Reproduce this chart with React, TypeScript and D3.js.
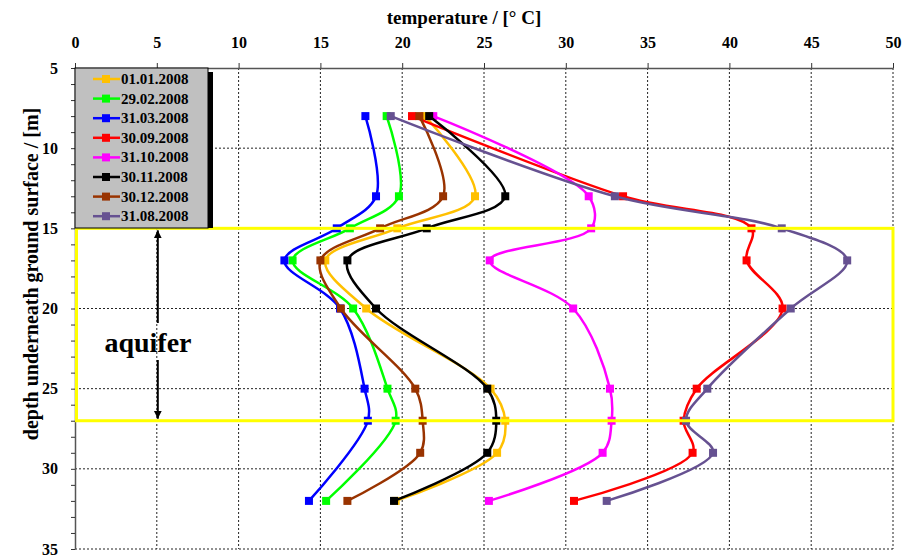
import React, { useEffect, useRef } from 'react';
import * as d3 from 'd3';

// depths of the measuring points (m below ground)
const depths = [8, 13, 15, 17, 20, 25, 27, 29, 32];
const depthsNo29 = [8, 13, 15, 17, 20, 25, 27, 32];

const seriesNames = [
    '01.01.2008', '29.02.2008', '31.03.2008', '30.09.2008',
    '31.10.2008', '30.11.2008', '30.12.2008', '31.08.2008',
];
const seriesColors = [
    '#ffc000', '#00ff00', '#0000ff', '#ff0000',
    '#ff00ff', '#000000', '#993300', '#665191',
];

// temperatures per series (°C)
const t0101 = [21.4, 24.45, 19.7, 15.3, 17.8, 25.4, 26.3, 25.8, 19.6];
const t2902 = [19.05, 19.8, 16.8, 13.3, 17.0, 19.1, 19.6, 15.35];
const t3103 = [17.75, 18.4, 16.0, 12.8, 16.2, 17.7, 17.9, 14.3];
const t3009 = [20.6, 33.5, 41.35, 41.05, 43.25, 38.0, 37.2, 37.75, 30.5];
const t3110 = [21.9, 31.4, 31.55, 25.35, 30.45, 32.7, 32.8, 32.25, 25.3];
const t3011 = [21.65, 26.3, 21.5, 16.65, 18.4, 25.2, 25.75, 25.2, 19.5];
const t3012 = [21.05, 22.5, 18.65, 15.0, 16.25, 20.8, 21.25, 21.1, 16.65];
const t3108 = [19.3, 33.0, 43.2, 47.2, 43.75, 38.65, 37.35, 39.0, 32.5];

const seriesValues = [t0101, t2902, t3103, t3009, t3110, t3011, t3012, t3108];
const seriesDepths = [depths, depthsNo29, depthsNo29, depths, depths, depths, depths, depths];

const xTicks = d3.range(0, 51, 5);
const yMajor = d3.range(5, 36, 5);
const aquiferTop = 15;
const aquiferBottom = 27;

const W = 908;
const H = 559;

const App = () => {
    const svgRef = useRef(null);

    useEffect(() => {
        const svg = d3.select(svgRef.current);
        svg.selectAll('*').remove();

        const x = d3.scaleLinear().domain([0, 50]).range([75, 893]);
        const y = d3.scaleLinear().domain([5, 35]).range([68, 549]);
        const font = '"Liberation Serif", "Times New Roman", serif';

        // grid
        const grid = svg.append('g');
        grid.selectAll('.vg').data(xTicks.slice(1)).enter().append('line')
            .attr('x1', d => x(d)).attr('x2', d => x(d))
            .attr('y1', y(5)).attr('y2', y(35))
            .attr('stroke', '#222').attr('stroke-width', 1).attr('stroke-dasharray', '2,2');
        grid.selectAll('.hg').data(yMajor.slice(1)).enter().append('line')
            .attr('x1', x(0)).attr('x2', x(50))
            .attr('y1', d => y(d)).attr('y2', d => y(d))
            .attr('stroke', '#222').attr('stroke-width', 1).attr('stroke-dasharray', '2,2');

        // axes
        const xAxis = svg.append('g')
            .attr('transform', `translate(0,${y(5)})`)
            .call(d3.axisTop(x).tickValues(xTicks).tickSize(5).tickPadding(15).tickSizeOuter(0));
        xAxis.select('.domain').attr('stroke', '#555').attr('stroke-width', 1.5);
        xAxis.selectAll('line').attr('stroke', '#333');
        xAxis.selectAll('text')
            .style('font-family', font).style('font-size', '16px').style('font-weight', 'bold')
            .attr('fill', '#000');

        const yAxis = svg.append('g')
            .attr('transform', `translate(${x(0)},0)`)
            .call(d3.axisLeft(y).tickValues(d3.range(5, 36, 1)).tickSize(4).tickPadding(13)
                .tickSizeOuter(0)
                .tickFormat(d => (+d % 5 === 0 ? String(d) : '')));
        yAxis.select('.domain').attr('stroke', '#555').attr('stroke-width', 1.5);
        yAxis.selectAll('line').attr('stroke', '#333');
        yAxis.selectAll('text')
            .style('font-family', font).style('font-size', '16px').style('font-weight', 'bold')
            .attr('fill', '#000');

        svg.append('text')
            .attr('x', 464).attr('y', 24)
            .attr('text-anchor', 'middle')
            .style('font-family', font).style('font-size', '19px').style('font-weight', 'bold')
            .text('temperature / [° C]');

        svg.append('text')
            .attr('transform', `translate(38,274) rotate(-90)`)
            .attr('text-anchor', 'middle')
            .style('font-family', font).style('font-size', '20px').style('font-weight', 'bold')
            .text('depth underneath ground surface / [m]');

        // series
        const line = d3.line()
            .x(d => x(d[0]))
            .y(d => y(d[1]))
            .curve(d3.curveCatmullRom.alpha(0.5));

        seriesValues.forEach((vals, i) => {
            const pts = vals.map((v, j) => [v, seriesDepths[i][j]]);
            const g = svg.append('g');
            g.append('path')
                .attr('d', line(pts))
                .attr('fill', 'none')
                .attr('stroke', seriesColors[i])
                .attr('stroke-width', 2.5);
            g.selectAll('rect').data(pts).enter().append('rect')
                .attr('x', d => x(d[0]) - 4)
                .attr('y', d => y(d[1]) - 4)
                .attr('width', 8).attr('height', 8)
                .attr('fill', seriesColors[i]);
        });

        // aquifer box
        svg.append('rect')
            .attr('x', x(0) + 1.5).attr('y', y(aquiferTop))
            .attr('width', x(50) - x(0) - 1.5)
            .attr('height', y(aquiferBottom) - y(aquiferTop))
            .attr('fill', 'none').attr('stroke', '#ffff00').attr('stroke-width', 3);

        // aquifer arrow
        const ax = x(5) + 1;
        svg.append('defs').append('marker')
            .attr('id', 'arr').attr('viewBox', '0 0 10 10')
            .attr('refX', 10).attr('refY', 5)
            .attr('markerWidth', 4).attr('markerHeight', 6)
            .attr('orient', 'auto-start-reverse')
            .append('path').attr('d', 'M0,0 L10,5 L0,10 Z').attr('fill', '#000');
        svg.append('line')
            .attr('x1', ax).attr('x2', ax)
            .attr('y1', y(aquiferTop) + 2).attr('y2', 323)
            .attr('stroke', '#000').attr('stroke-width', 2)
            .attr('marker-start', 'url(#arr)');
        svg.append('line')
            .attr('x1', ax).attr('x2', ax)
            .attr('y1', 360).attr('y2', y(aquiferBottom) - 2)
            .attr('stroke', '#000').attr('stroke-width', 2)
            .attr('marker-end', 'url(#arr)');
        svg.append('text')
            .attr('x', 148).attr('y', 352)
            .attr('text-anchor', 'middle')
            .style('font-family', font).style('font-size', '28px').style('font-weight', 'bold')
            .text('aquifer');

        // legend
        const lg = svg.append('g').attr('transform', `translate(${x(0)},${y(5)})`);
        lg.append('rect').attr('x', 4).attr('y', 4).attr('width', 134).attr('height', 156).attr('fill', '#000');
        lg.append('rect').attr('x', 0).attr('y', 0).attr('width', 133).attr('height', 160)
            .attr('fill', '#c0c0c0').attr('stroke', '#000').attr('stroke-width', 1);
        const rows = lg.selectAll('.lr').data(seriesNames).enter().append('g')
            .attr('transform', (_, i) => `translate(0,${11 + i * 19.6})`);
        rows.append('line').attr('x1', 18).attr('x2', 45).attr('y1', 0).attr('y2', 0)
            .attr('stroke', (_, i) => seriesColors[i]).attr('stroke-width', 2.5);
        rows.append('rect').attr('x', 27).attr('y', -4).attr('width', 8).attr('height', 8)
            .attr('fill', (_, i) => seriesColors[i]);
        rows.append('text').attr('x', 46).attr('y', 5)
            .style('font-family', font).style('font-size', '15px').style('font-weight', 'bold')
            .text(d => d);
    }, []);

    return (
        <svg ref={svgRef} width={W} height={H}
            style={{ position: 'absolute', left: 0, top: 0, background: '#fff' }} />
    );
};

export default App;
